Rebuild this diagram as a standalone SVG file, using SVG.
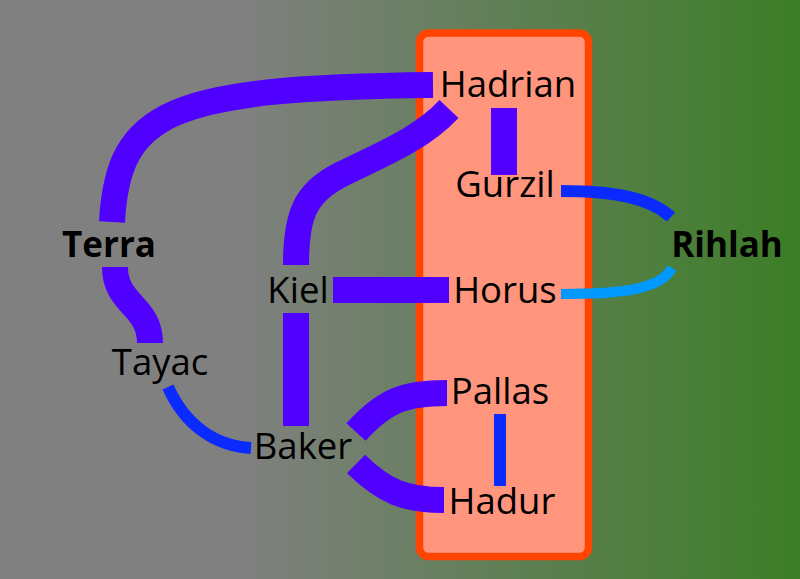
<svg xmlns="http://www.w3.org/2000/svg" width="800" height="579" viewBox="0 0 800 579">
<defs>
<linearGradient id="bg" x1="0" y1="0" x2="800" y2="0" gradientUnits="userSpaceOnUse">
<stop offset="0.3" stop-color="#808080"/>
<stop offset="1" stop-color="#3c7e26"/>
</linearGradient>
<style>
.lbl{font-family:"Open Sans","Noto Sans",sans-serif;font-size:36.5px;fill:#000;text-anchor:middle}
.b{font-weight:bold;font-size:35px}
.e{fill:none;stroke-linecap:butt}
.thick{stroke:#4f00ff;stroke-width:26}
.thin{stroke:#0a2aff;stroke-width:12}
.light{stroke:#0099ff;stroke-width:10}
</style>
</defs>
<rect x="0" y="0" width="800" height="579" fill="url(#bg)"/>
<rect id="cluster" x="419.5" y="33" width="169" height="523.5" rx="9" fill="#ff957d" stroke="#ff4500" stroke-width="7.5"/>
<g id="connectors">
<path class="e thick" d="M112,222 C118,110 170,88 433,85"/>
<path class="e thick" d="M449,109 C420,140 380,155 340,175 C305,193 296,215 296,265"/>
<path class="e thick" d="M504,108 L504,175"/>
<path class="e thin" d="M561,191 C615,191 650,198 671,217"/>
<path class="e light" d="M561,294 C620,294 660,290 672,268"/>
<path class="e thick" d="M333,290 L449,290"/>
<path class="e thick" d="M296,313 L296,426"/>
<path class="e thick" d="M115,267 C115,305 150,305 150,343"/>
<path class="e thin" d="M168,387 C185,425 215,446 251,448"/>
<path class="e thick" d="M356,432 C385,400 405,393 447,393"/>
<path class="e thick" d="M356,464 C385,492 405,500 444,500"/>
<path class="e thin" d="M500,414 L500,486"/>
</g>
<g id="Hadrian"><text class="lbl" x="508" y="97">Hadrian</text></g>
<g id="Gurzil"><text class="lbl" x="505" y="197">Gurzil</text></g>
<g id="Horus"><text class="lbl" x="505" y="303">Horus</text></g>
<g id="Pallas"><text class="lbl" x="500" y="404">Pallas</text></g>
<g id="Hadur"><text class="lbl" x="502" y="514">Hadur</text></g>
<g id="Baker"><text class="lbl" x="303" y="459">Baker</text></g>
<g id="Tayac"><text class="lbl" x="160" y="375">Tayac</text></g>
<g id="Kiel"><text class="lbl" x="298" y="303">Kiel</text></g>
<g id="Terra"><text class="lbl b" x="109" y="257">Terra</text></g>
<g id="Rihlah"><text class="lbl b" x="727" y="257">Rihlah</text></g>
</svg>
